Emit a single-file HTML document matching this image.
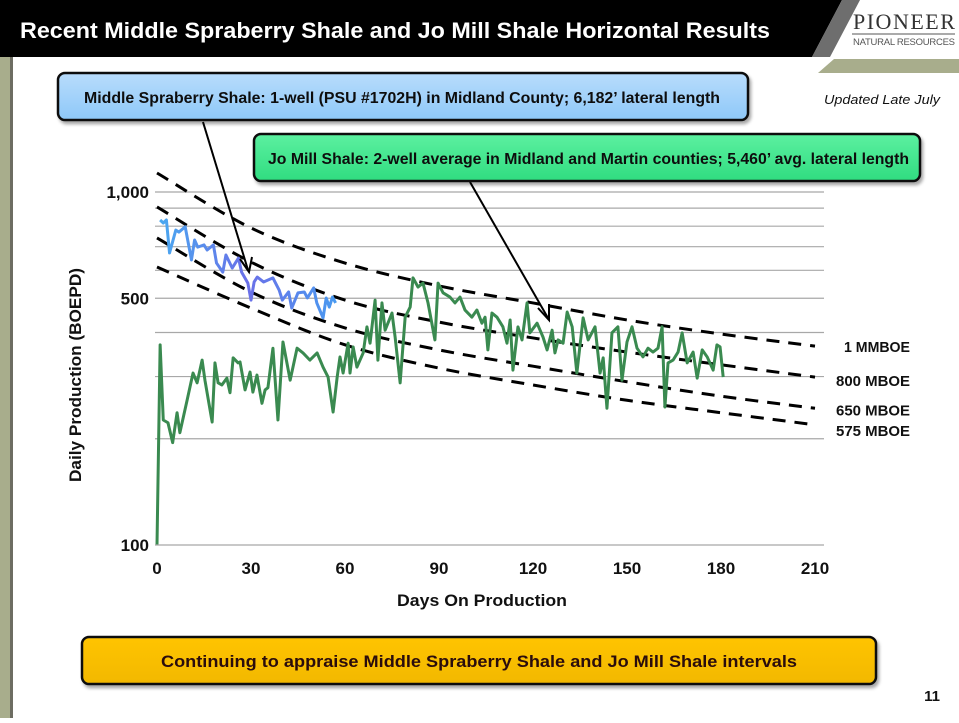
<!DOCTYPE html>
<html><head><meta charset="utf-8"><style>
html,body{margin:0;padding:0;background:#fff;}
body{width:959px;height:718px;position:relative;overflow:hidden;font-family:"Liberation Sans","DejaVu Sans",sans-serif;}
svg text{font-family:"Liberation Sans","DejaVu Sans",sans-serif;}
</style></head><body>
<svg id="chart" width="959" height="718" viewBox="0 0 959 718" xmlns="http://www.w3.org/2000/svg">
<defs>
<filter id="sh" x="-5%" y="-20%" width="110%" height="150%"><feDropShadow dx="2" dy="3" stdDeviation="1.5" flood-color="#000" flood-opacity="0.35"/></filter>
<linearGradient id="gb" x1="0" y1="0" x2="0" y2="1"><stop offset="0" stop-color="#b8dcfc"/><stop offset="1" stop-color="#8ec8f8"/></linearGradient>
<linearGradient id="gg" x1="0" y1="0" x2="0" y2="1"><stop offset="0" stop-color="#5cf0a0"/><stop offset="1" stop-color="#30dc80"/></linearGradient>
<linearGradient id="gy" x1="0" y1="0" x2="0" y2="1"><stop offset="0" stop-color="#ffc400"/><stop offset="1" stop-color="#f2b800"/></linearGradient>
<linearGradient id="bl" x1="0" y1="0" x2="1" y2="0"><stop offset="0" stop-color="#4aa8f0"/><stop offset="0.5" stop-color="#6a70e8"/><stop offset="1" stop-color="#4a9af0"/></linearGradient>
</defs>
<polygon points="0,0 842,0 812,57 0,57" fill="#000"/>
<polygon points="842,0 860,0 830,57 812,57" fill="#6e6e6e"/>
<polygon points="834,59 959,59 959,73 818,73" fill="#a8ad8c"/>
<text x="20" y="38" fill="#fff" font-size="22" font-weight="bold" textLength="750" lengthAdjust="spacingAndGlyphs">Recent Middle Spraberry Shale and Jo Mill Shale Horizontal Results</text>
<text x="853" y="29" fill="#333" font-size="22" letter-spacing="1.5" style="font-family:'Liberation Serif',serif">PIONEER</text>
<line x1="852" y1="34" x2="955" y2="34" stroke="#555" stroke-width="1"/>
<text x="853" y="45" fill="#555" font-size="9.5" textLength="102">NATURAL RESOURCES</text>
<rect x="0" y="57" width="10" height="661" fill="#a8ad8c"/>
<rect x="10" y="57" width="3" height="661" fill="#6d6d62"/>
<text x="824" y="104" font-size="12.5" font-style="italic" fill="#111" textLength="116" lengthAdjust="spacingAndGlyphs">Updated Late July</text>
<g id="grid"></g>
<g id="curves"></g>
<g id="series"></g>
<g id="axes"></g>
<line x1="203" y1="122" x2="248" y2="270" stroke="#000" stroke-width="2"/>
<polyline points="240,259 249,272 252,257" fill="none" stroke="#000" stroke-width="2"/>
<line x1="470" y1="182" x2="548" y2="318" stroke="#000" stroke-width="2"/>
<polyline points="538,308 549,320 549,304" fill="none" stroke="#000" stroke-width="2"/>
<g filter="url(#sh)">
<rect x="58" y="73" width="690" height="47" rx="7" fill="url(#gb)" stroke="#111" stroke-width="2.5"/>
<text x="84" y="103" font-size="16" font-weight="bold" fill="#111" textLength="636" lengthAdjust="spacingAndGlyphs">Middle Spraberry Shale: 1-well (PSU #1702H) in Midland County; 6,182’ lateral length</text>
</g>
<g filter="url(#sh)">
<rect x="254" y="134" width="666" height="47" rx="7" fill="url(#gg)" stroke="#111" stroke-width="2.5"/>
<text x="268" y="164" font-size="16" font-weight="bold" fill="#111" textLength="641" lengthAdjust="spacingAndGlyphs">Jo Mill Shale: 2-well average in Midland and Martin counties; 5,460’ avg. lateral length</text>
</g>
<g filter="url(#sh)">
<rect x="82" y="637" width="794" height="47" rx="7" fill="url(#gy)" stroke="#111" stroke-width="2.5"/>
<text x="161" y="667" font-size="16.5" font-weight="bold" fill="#2a0a0a" textLength="636" lengthAdjust="spacingAndGlyphs">Continuing to appraise Middle Spraberry Shale and Jo Mill Shale intervals</text>
</g>
<text x="940" y="701" text-anchor="end" font-size="15" font-weight="bold" fill="#111">11</text>
</svg>
<script>
const xTicks=[0,30,60,90,120,150,180,210];
const yTicks=[100,500,1000];
const yTickLabels=["100","500","1,000"];
const yGrid=[200,300,400,500,600,700,800,900,1000];
const curveDays=[0,30,60,90,120,150,180,210];
const curveNames=["1 MMBOE","800 MBOE","650 MBOE","575 MBOE"];
const curve1MM=[1132,791,629,542,485,434,396,366];
const curve800=[907,633,494,428,386,352,324,299];
const curve650=[741,521,412,357,321,290,264,244];
const curve575=[613,469,369,317,284,257,237,219];
const blueDays=[1,2,3,4,6,7,9,11,12,13,15,16,18,19,21,22,24,26,27,29,30,31,32,34,37,39,40,42,43,45,47,48,50,51,53,54,55,56,57];
const blueVals=[833,817,833,672,780,770,797,642,731,698,708,685,708,629,593,663,609,650,593,552,494,556,574,556,571,527,494,521,469,518,521,501,535,485,440,501,472,504,485];
const greenDays=[0,1,2,3.5,5,6.4,7.3,9.6,11.5,12.8,14.4,15.3,17.6,18.5,19.5,20.7,22.3,23.3,24.3,25.9,26.5,28.1,29.7,30.6,31.9,33.5,34.5,35.4,37,38.6,40.2,42.5,44.7,46.6,48.8,51.1,53,54.6,56.2,57.5,58.4,59.4,61,61.6,62.6,63.8,65.8,67,68,69.6,70.5,71.8,72.8,75,76,77.6,79.2,80.8,81.7,83.3,84.9,86.5,88.7,89.7,91.3,93.5,95.1,96.7,98.3,100.5,102.1,103.7,104.7,105.6,106.9,108.5,110.4,111.7,112.7,113.6,115.2,116.5,118.1,119,121.3,123.2,124.5,126.1,127,128,129.6,130.9,132.5,134,136,137.6,139.8,141.4,142.4,143.6,145.2,147.1,148.4,150,151.6,153.2,155.1,156.7,158.3,159.9,161.2,162.1,163.1,164.7,166.3,167.6,169.2,171.1,172.4,174,175.6,177.5,178.7,179.7,180.7];
const greenVals=[100,369,226,222,195,237,208,257,307,288,334,293,223,328,288,284,297,270,339,328,330,275,309,271,303,252,275,279,361,226,376,293,361,350,334,350,319,299,238,299,341,307,373,307,364,319,350,415,373,494,334,485,406,454,388,288,442,472,571,538,552,485,381,552,518,504,485,504,463,442,463,425,442,357,454,442,415,373,434,313,415,381,485,399,425,388,357,406,350,381,373,457,415,307,440,381,415,307,339,244,399,415,293,376,415,361,341,361,352,361,415,246,328,334,352,399,328,352,297,357,341,313,369,364,299];

const NS="http://www.w3.org/2000/svg";
const X0=157,X1=815,Y100=545,Y1000=192;
function xS(d){return X0+(d-0)/(210-0)*(X1-X0);}
function yS(v){return Y100-(Math.log10(v)-2)*(Y100-Y1000);}
function mk(tag,attrs,parent){const e=document.createElementNS(NS,tag);for(const k in attrs)e.setAttribute(k,attrs[k]);parent.appendChild(e);return e;}
const grid=document.getElementById('grid'),axes=document.getElementById('axes'),curves=document.getElementById('curves'),series=document.getElementById('series');
yGrid.forEach(v=>{const l=mk('line',{x1:155,x2:824,y1:yS(v),y2:yS(v),stroke:'#a8a8a8','stroke-width':1.2},grid);

});
const base=mk('line',{x1:155,x2:824,y1:yS(100),y2:yS(100),stroke:'#a8a8a8','stroke-width':1.2},axes);


yTicks.forEach((v,i)=>{const t=mk('text',{x:149,y:yS(v)+6,'text-anchor':'end','font-size':17,'font-weight':'bold',fill:'#111'},axes);t.textContent=yTickLabels[i];

});
xTicks.forEach(d=>{const t=mk('text',{x:xS(d),y:574,'text-anchor':'middle','font-size':17,'font-weight':'bold',fill:'#111'},axes);t.textContent=String(d);

});
const xt=mk('text',{x:397,y:606,'font-size':17,'font-weight':'bold',fill:'#111',textLength:170,lengthAdjust:'spacingAndGlyphs'},axes);xt.textContent='Days On Production';


const yt=mk('text',{x:-107,y:0,'font-size':17,'font-weight':'bold',fill:'#111',textLength:214,lengthAdjust:'spacingAndGlyphs',transform:'translate(81,375) rotate(-90)'},axes);yt.textContent='Daily Production (BOEPD)';


function smooth(pts){let d='M'+pts[0][0]+','+pts[0][1];for(let i=0;i<pts.length-1;i++){const p0=pts[Math.max(0,i-1)],p1=pts[i],p2=pts[i+1],p3=pts[Math.min(pts.length-1,i+2)];
const c1=[p1[0]+(p2[0]-p0[0])/6,p1[1]+(p2[1]-p0[1])/6],c2=[p2[0]-(p3[0]-p1[0])/6,p2[1]-(p3[1]-p1[1])/6];d+=' C'+c1+' '+c2+' '+p2;}return d;}
const curveSets=[curve1MM,curve800,curve650,curve575];
const labelDy=[6,9,7,11];
const labelLen=[66,74,74,74];
curveSets.forEach((vals,i)=>{const pts=curveDays.map((d,j)=>[xS(d),yS(vals[j])]);
const p=mk('path',{d:smooth(pts),fill:'none',stroke:'#000','stroke-width':3,'stroke-dasharray':'13,9'},curves);


const t=mk('text',{x:910,y:yS(vals[vals.length-1])+labelDy[i],'text-anchor':'end','font-size':15,'font-weight':'bold',fill:'#111',textLength:labelLen[i],lengthAdjust:'spacingAndGlyphs'},curves);t.textContent=curveNames[i];

});
const g=mk('polyline',{points:greenDays.map((d,i)=>xS(d)+','+yS(greenVals[i])).join(' '),fill:'none',stroke:'#3a8a50','stroke-width':3,'stroke-linejoin':'round'},series);


const b=mk('polyline',{points:blueDays.map((d,i)=>xS(d)+','+yS(blueVals[i])).join(' '),fill:'none',stroke:'url(#bl)','stroke-width':3,'stroke-linejoin':'round'},series);


</script>
</body></html>
